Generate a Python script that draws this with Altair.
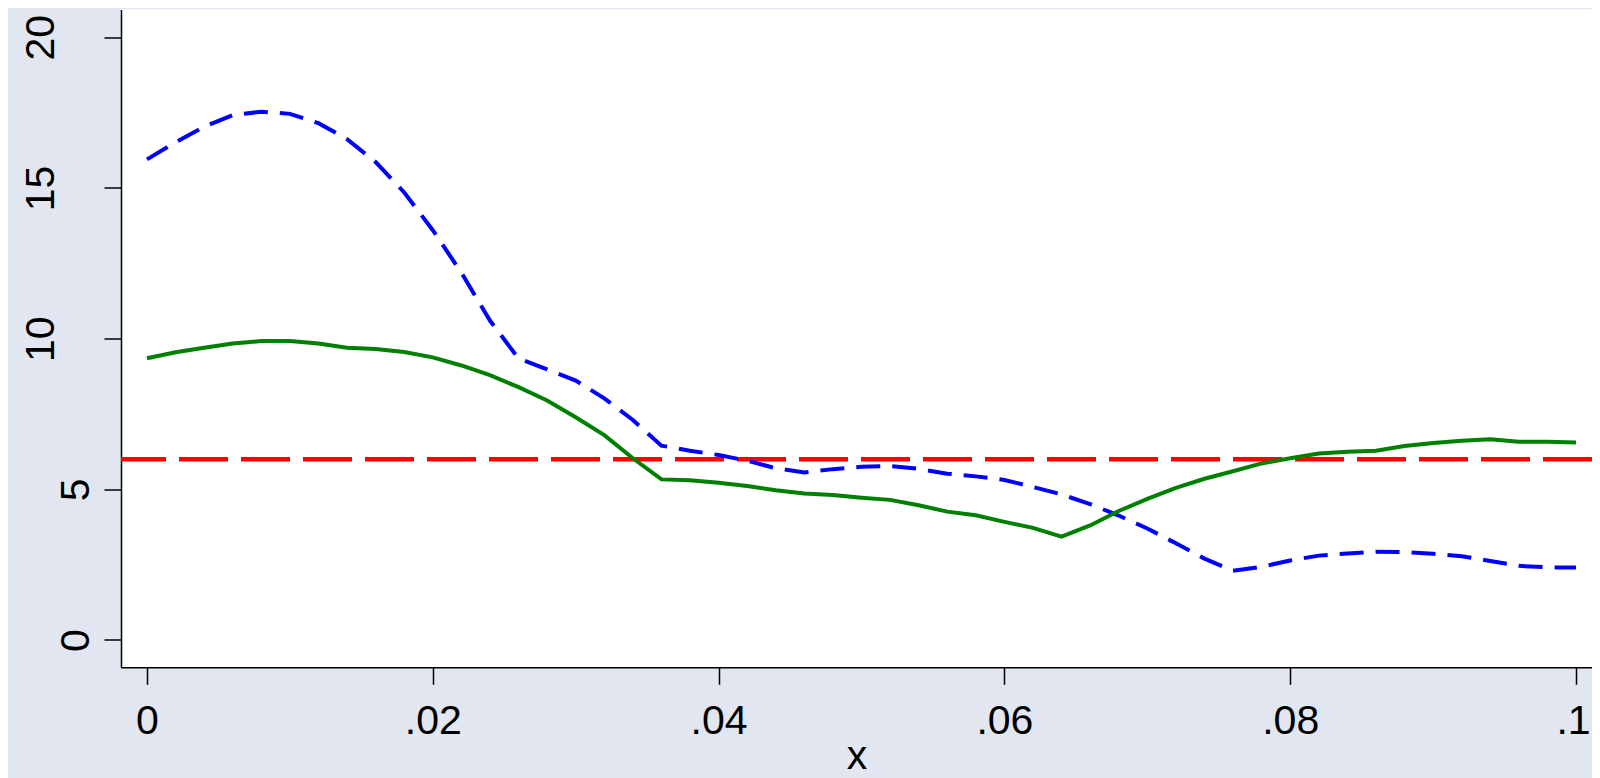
import altair as alt
import pandas as pd

# x grid of the two curves
x_vals = [0.000, 0.002, 0.004, 0.006, 0.008, 0.010, 0.012, 0.014, 0.016, 0.018,
          0.020, 0.022, 0.024, 0.026, 0.028, 0.030, 0.032, 0.034, 0.036, 0.038,
          0.040, 0.042, 0.044, 0.046, 0.048, 0.050, 0.052, 0.054, 0.056, 0.058,
          0.060, 0.062, 0.064, 0.066, 0.068, 0.070, 0.072, 0.074, 0.076, 0.078,
          0.080, 0.082, 0.084, 0.086, 0.088, 0.090, 0.092, 0.094, 0.096, 0.098,
          0.100]

# blue dashed curve
blue_vals = [15.95, 16.52, 17.03, 17.42, 17.53, 17.46, 17.15, 16.62, 15.86, 14.85,
             13.60, 12.19, 10.60, 9.34, 8.98, 8.61, 8.02, 7.30, 6.45, 6.28,
             6.14, 5.95, 5.70, 5.56, 5.67, 5.75, 5.77, 5.68, 5.52, 5.43,
             5.31, 5.08, 4.83, 4.51, 4.13, 3.70, 3.21, 2.70, 2.30, 2.43,
             2.64, 2.80, 2.87, 2.93, 2.92, 2.86, 2.78, 2.62, 2.46, 2.41,
             2.41]

# green solid curve
green_vals = [9.35, 9.55, 9.70, 9.84, 9.92, 9.92, 9.84, 9.70, 9.66, 9.56,
              9.38, 9.11, 8.79, 8.39, 7.95, 7.39, 6.80, 6.03, 5.33, 5.30,
              5.22, 5.11, 4.97, 4.86, 4.81, 4.72, 4.65, 4.47, 4.26, 4.14,
              3.92, 3.72, 3.43, 3.80, 4.28, 4.68, 5.05, 5.35, 5.60, 5.86,
              6.03, 6.19, 6.25, 6.28, 6.44, 6.54, 6.61, 6.66, 6.58, 6.58,
              6.55]

# red reference line
ref_vals = [6]

# axis ticks
x_ticks = [0, 0.02, 0.04, 0.06, 0.08, 0.1]
y_ticks = [0, 5, 10, 15, 20]

FONT = "Liberation Sans"

df_blue = pd.DataFrame({"x": x_vals, "y": blue_vals})
df_green = pd.DataFrame({"x": x_vals, "y": green_vals})
df_ref = pd.DataFrame({"y": ref_vals})

x_scale = alt.Scale(domain=[-0.00182, 0.10112], nice=False, zero=False)
y_scale = alt.Scale(domain=[-0.906, 20.923], nice=False, zero=False)

x_axis = alt.Axis(
    values=x_ticks,
    labelExpr="datum.value == 0 ? '0' : replace(format(datum.value, '.2~f'), '0.', '.')",
    labelFont=FONT, labelFontSize=41, labelColor="black",
    labelPadding=16.7, labelBaseline="top", labelFlush=False, labelOverlap=False,
    labelOffset={"condition": {"test": "datum.value > 0.099", "value": -3}, "value": 0},
    tickSize=17, tickWidth=1.5, tickColor="black",
    domainColor="black", domainWidth=1.5, grid=False,
    title="x", titleFont=FONT, titleFontSize=41, titleFontWeight="normal",
    titleColor="black", titleY=101, titleBaseline="alphabetic",
)

y_axis = alt.Axis(
    values=y_ticks,
    labelAngle=270, labelAlign="center", labelBaseline="alphabetic",
    labelFont=FONT, labelFontSize=41, labelColor="black",
    labelPadding={"condition": {"test": "datum.value >= 10", "value": 51}, "value": 16},
    labelFlush=False, labelOverlap=False,
    tickSize=17, tickWidth=1.5, tickColor="black",
    domainColor="black", domainWidth=1.5, grid=False, title=None,
)

X = alt.X("x:Q", scale=x_scale, axis=x_axis)
Y = alt.Y("y:Q", scale=y_scale, axis=y_axis)

ref = alt.Chart(df_ref).mark_rule(
    color="#FF0000", strokeWidth=4.5, strokeDash=[49, 13]
).encode(y=Y)

blue = alt.Chart(df_blue).mark_line(
    color="#0000FF", strokeWidth=4, strokeDash=[24, 12]
).encode(x=X, y=Y)

green = alt.Chart(df_green).mark_line(
    color="#008000", strokeWidth=4
).encode(x=X, y=Y)

chart = alt.layer(ref, blue, green).properties(
    width=1471,
    height=657.8,
    padding={"left": 113, "top": 1.5, "right": 0, "bottom": 110.7},
    autosize=alt.AutoSizeParams(type="none"),
    background="#E1E6F0",
).configure_view(stroke=None, fill="white")

chart.save("out.html", embed_options={"renderer": "svg", "actions": False})
